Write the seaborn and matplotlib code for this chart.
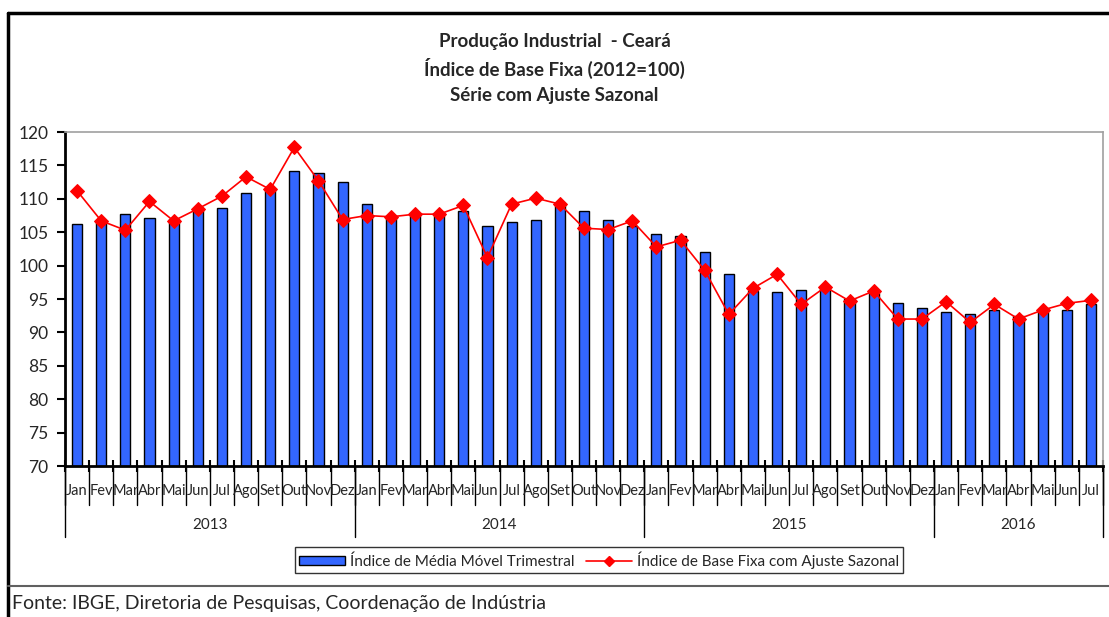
import numpy as np
import matplotlib
matplotlib.use("Agg")
import matplotlib.pyplot as plt
import matplotlib.transforms as mtransforms
from matplotlib.lines import Line2D
from matplotlib.patches import Patch
import seaborn as sns

# data
years = ['2013', '2014', '2015', '2016']
months_per_year = [12, 12, 12, 7]
month_names = ['Jan', 'Fev', 'Mar', 'Abr', 'Mai', 'Jun', 'Jul', 'Ago', 'Set', 'Out', 'Nov', 'Dez']

media_movel = [
    106.3, 106.8, 107.7, 107.1, 107.0, 108.5, 108.6, 110.9, 111.6, 114.1, 113.9, 112.5,
    109.2, 107.3, 107.7, 107.7, 108.2, 105.9, 106.5, 106.9, 109.4, 108.2, 106.8, 105.9,
    104.8, 104.5, 102.0, 98.7, 96.2, 96.0, 96.4, 96.9, 95.0, 95.9, 94.4, 93.6,
    93.0, 92.7, 93.35, 92.4, 93.2, 93.35, 94.2,
]
ajuste_sazonal = [
    111.2, 106.7, 105.3, 109.6, 106.7, 108.5, 110.4, 113.3, 111.4, 117.7, 112.7, 106.9,
    107.5, 107.3, 107.7, 107.7, 109.0, 101.2, 109.2, 110.1, 109.2, 105.6, 105.4, 106.7,
    102.8, 103.8, 99.3, 92.7, 96.6, 98.7, 94.2, 96.8, 94.7, 96.2, 92.0, 92.0,
    94.6, 91.5, 94.2, 92.0, 93.35, 94.35, 94.8,
]

month_labels = []
for n in months_per_year:
    month_labels += month_names[:n]
n = len(month_labels)
pos = np.arange(n)

sns.set_style("white")
plt.rcParams['font.family'] = ['Lato', 'DejaVu Sans']

fig = plt.figure(figsize=(11.09, 6.17), dpi=100)
ax = fig.add_axes([65 / 1109, 1 - 466 / 617, (1103 - 65) / 1109, (466 - 132) / 617])

bar_color = '#3366ff'
sns.barplot(x=pos, y=media_movel, ax=ax, color=bar_color, saturation=1,
            edgecolor='black', linewidth=1, width=0.42)
sns.lineplot(x=pos, y=ajuste_sazonal, ax=ax, color='red', linewidth=1.2,
             marker='D', markersize=7.5, markeredgecolor='red')

ax.set_xlim(-0.5, n - 0.5)
ax.set_ylim(70, 120)
ax.set_yticks(np.arange(70, 121, 5))
ax.tick_params(axis='y', labelsize=12.5, length=6, width=1.5, direction='out',
               left=True, color='black', pad=6)
ax.set_xticks(np.arange(-0.5, n, 1))
ax.set_xticklabels([])
ax.tick_params(axis='x', direction='inout', length=8, width=1.5, bottom=True, color='black')
ax.set_xlabel('')
ax.set_ylabel('')

for side in ['top', 'right']:
    ax.spines[side].set_color('#a0a0a0')
    ax.spines[side].set_linewidth(1.2)
for side in ['left', 'bottom']:
    ax.spines[side].set_color('black')
    ax.spines[side].set_linewidth(2)

# category axis labels below the plot
trans = mtransforms.blended_transform_factory(ax.transData, fig.transFigure)
for i, lab in enumerate(month_labels):
    ax.text(i, 1 - 491 / 617, lab, transform=trans, ha='center', va='center', fontsize=10.5)
for i in range(n + 1):
    ax.plot([i - 0.5, i - 0.5], [1 - 466 / 617, 1 - 505 / 617], transform=trans,
            color='black', linewidth=1, clip_on=False)

start = 0
for yr, cnt in zip(years, months_per_year):
    ax.text(start + cnt / 2 - 0.5, 1 - 525 / 617, yr, transform=trans,
            ha='center', va='center', fontsize=11)
    ax.plot([start - 0.5, start - 0.5], [1 - 466 / 617, 1 - 537 / 617], transform=trans,
            color='black', linewidth=1, clip_on=False)
    start += cnt
ax.plot([start - 0.5, start - 0.5], [1 - 466 / 617, 1 - 537 / 617], transform=trans,
        color='black', linewidth=1, clip_on=False)

# title
titles = ['Produção Industrial  - Ceará', 'Índice de Base Fixa (2012=100)', 'Série com Ajuste Sazonal']
for k, t in enumerate(titles):
    fig.text(0.5, 1 - (41 + 27.5 * k) / 617, t, ha='center', va='center',
             fontsize=13.5, fontweight='bold')

# legend
handles = [
    Patch(facecolor=bar_color, edgecolor='black', linewidth=1),
    Line2D([], [], color='red', marker='D', markersize=5, linewidth=1.2),
]
labels = ['Índice de Média Móvel Trimestral', 'Índice de Base Fixa com Ajuste Sazonal']
leg = fig.legend(handles, labels, loc='center', bbox_to_anchor=(599 / 1109, 1 - 560 / 617),
                 ncol=2, frameon=True, fancybox=False, fontsize=11, handlelength=3,
                 handleheight=0.6, handletextpad=0.3, columnspacing=0.8,
                 borderpad=0.3, edgecolor='black')
leg.get_frame().set_linewidth(1)

# outer frame and footer
fig.add_artist(Line2D([8 / 1109, 8 / 1109], [0, 1 - 13 / 617], color='black', linewidth=2.5))
fig.add_artist(Line2D([8 / 1109, 1], [1 - 13 / 617, 1 - 13 / 617], color='black', linewidth=2.5))
fig.add_artist(Line2D([8 / 1109, 1], [1 - 586 / 617, 1 - 586 / 617], color='#606060', linewidth=1.5))
fig.text(12 / 1109, 1 - 604 / 617, 'Fonte: IBGE, Diretoria de Pesquisas, Coordenação de Indústria',
         ha='left', va='center', fontsize=14)

fig.savefig('out.png', dpi=100)
